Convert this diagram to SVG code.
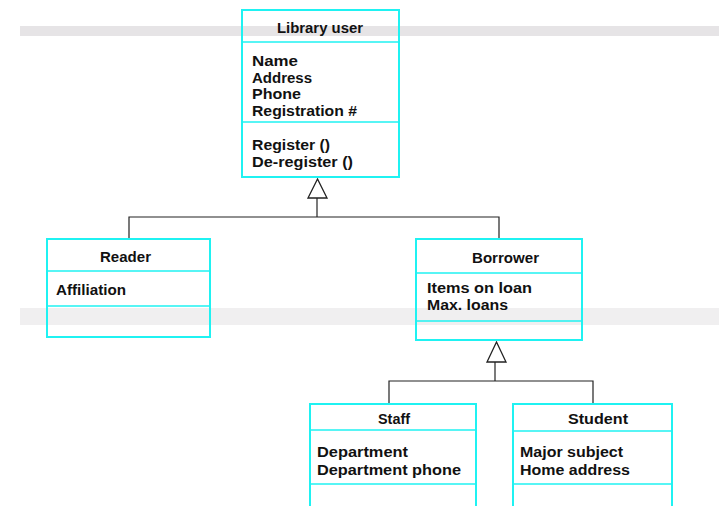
<svg xmlns="http://www.w3.org/2000/svg" width="719" height="506" viewBox="0 0 719 506">
<style>
.box{fill:none;stroke:#1ff2f2;stroke-width:2}
.div{stroke:#1ff2f2;stroke-width:1.5}
.t{font-family:"Liberation Sans",Arial,sans-serif;font-weight:700;font-size:14px;fill:#111}
.conn{fill:none;stroke:#222;stroke-width:1.2}
.tri{fill:#fff;stroke:#222;stroke-width:1.3}
.band{fill:#e6e4e6}
</style>
<rect width="719" height="506" fill="#fff"/>
<rect class="band" x="20" y="26" width="699" height="10"/>
<rect class="band" x="20" y="308" width="699" height="17" opacity="0.6"/>
<g id="connectors">
<polyline class="conn" points="317,198 317,217"/>
<polyline class="conn" points="129,238 129,217 499,217 499,239"/>
<polygon class="tri" points="317.5,179 308,198 327,198"/>
<polyline class="conn" points="495,362 495,381"/>
<polyline class="conn" points="389,403 389,381 593,381 593,403"/>
<polygon class="tri" points="496.5,342 487,362 506,362"/>
</g>
<g id="library-user">
<rect class="box" x="242" y="10" width="157" height="167"/>
<line class="div" x1="243" y1="42" x2="398" y2="42"/>
<line class="div" x1="243" y1="122" x2="398" y2="122"/>
<text class="t" x="277" y="33" textLength="86" lengthAdjust="spacingAndGlyphs">Library user</text>
<text class="t" x="252" y="66" textLength="46" lengthAdjust="spacingAndGlyphs">Name</text>
<text class="t" x="252" y="82.5" textLength="60" lengthAdjust="spacingAndGlyphs">Address</text>
<text class="t" x="252" y="99" textLength="49" lengthAdjust="spacingAndGlyphs">Phone</text>
<text class="t" x="252" y="115.5" textLength="105" lengthAdjust="spacingAndGlyphs">Registration #</text>
<text class="t" x="252" y="150" textLength="78" lengthAdjust="spacingAndGlyphs">Register ()</text>
<text class="t" x="252" y="167" textLength="101" lengthAdjust="spacingAndGlyphs">De-register ()</text>
</g>
<g id="reader">
<rect class="box" x="47" y="239" width="163" height="98"/>
<line class="div" x1="48" y1="271" x2="209" y2="271"/>
<line class="div" x1="48" y1="306" x2="209" y2="306"/>
<text class="t" x="100" y="262" textLength="51" lengthAdjust="spacingAndGlyphs">Reader</text>
<text class="t" x="56" y="295" textLength="70" lengthAdjust="spacingAndGlyphs">Affiliation</text>
</g>
<g id="borrower">
<rect class="box" x="416" y="239" width="166" height="101"/>
<line class="div" x1="417" y1="273" x2="581" y2="273"/>
<line class="div" x1="417" y1="321" x2="581" y2="321"/>
<text class="t" x="472" y="263" textLength="67" lengthAdjust="spacingAndGlyphs">Borrower</text>
<text class="t" x="427" y="293" textLength="105" lengthAdjust="spacingAndGlyphs">Items on loan</text>
<text class="t" x="427" y="310" textLength="81" lengthAdjust="spacingAndGlyphs">Max. loans</text>
</g>
<g id="staff">
<polyline class="box" points="310,507 310,404 476,404 476,507"/>
<line class="div" x1="311" y1="430" x2="475" y2="430"/>
<line class="div" x1="311" y1="484" x2="475" y2="484"/>
<text class="t" x="378" y="424" textLength="32" lengthAdjust="spacingAndGlyphs">Staff</text>
<text class="t" x="317" y="457" textLength="91" lengthAdjust="spacingAndGlyphs">Department</text>
<text class="t" x="317" y="475" textLength="144" lengthAdjust="spacingAndGlyphs">Department phone</text>
</g>
<g id="student">
<polyline class="box" points="513,507 513,404 672,404 672,507"/>
<line class="div" x1="514" y1="431" x2="671" y2="431"/>
<line class="div" x1="514" y1="484" x2="671" y2="484"/>
<text class="t" x="568" y="424" textLength="60" lengthAdjust="spacingAndGlyphs">Student</text>
<text class="t" x="520" y="457" textLength="103" lengthAdjust="spacingAndGlyphs">Major subject</text>
<text class="t" x="520" y="475" textLength="110" lengthAdjust="spacingAndGlyphs">Home address</text>
</g>
</svg>
